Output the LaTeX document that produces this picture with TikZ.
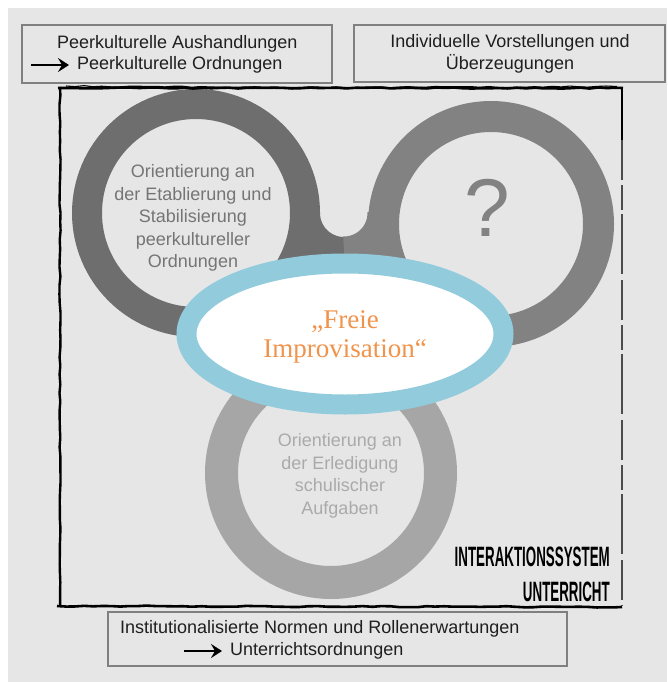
\documentclass[tikz,border=0pt]{standalone}
\usepackage{fontspec}
\setmainfont{Liberation Sans}
\newfontfamily\improfont{Liberation Serif}
\usetikzlibrary{arrows.meta,decorations.pathmorphing}
\definecolor{paper}{HTML}{E6E6E6}
\definecolor{ringdark}{HTML}{6E6E6E}
\definecolor{ringmid}{HTML}{828282}
\definecolor{ringlight}{HTML}{A6A6A6}
\definecolor{lensblue}{HTML}{92CBDC}
\definecolor{improorange}{HTML}{F0934B}
\definecolor{boxedge}{HTML}{808080}
\begin{document}
\begin{tikzpicture}[x=1pt,y=-1pt,
  boxframe/.style={draw=boxedge,line width=1.6pt},
  boxtext/.style={inner sep=0pt,font=\fontsize{18}{21}\selectfont,text=black!88},
  ringtext/.style={inner sep=0pt,align=center,font=\fontsize{18}{22.5}\selectfont},
  thickarrow/.style={line width=2.8pt,-{Stealth[length=11pt,width=14pt,inset=4pt]}},
  sketchy/.style={decorate,decoration={random steps,segment length=9pt,amplitude=0.6pt}},
  handtext/.style={inner sep=0pt,anchor=east,font=\bfseries\fontsize{28}{28}\selectfont}]
 \useasboundingbox (0,0) rectangle (667,682);
 \fill[white] (0,0) rectangle (667,682);
 \fill[paper] (8,8) rectangle (667,682);
 % boxes outside the frame
 \draw[boxframe] (22,25) rectangle (332,83);
 \node[boxtext,anchor=west] (aushandlung) at (57,44) {Peerkulturelle Aushandlungen};
 \node[boxtext,anchor=west] (peerordnung) at (77,65) {Peerkulturelle Ordnungen};
 \coordinate (pfeilA) at (31,65);
 \draw[thickarrow] (pfeilA) -- ([xshift=-8pt]peerordnung.west);
 \draw[boxframe] (354,25) rectangle (665,82);
 \node[boxtext,align=center] (vorstellung) at (510,54) {Individuelle Vorstellungen und\\[1pt]Überzeugungen};
 \draw[boxframe] (108,612) rectangle (567,666);
 \node[boxtext,anchor=west] (normen) at (120,629) {Institutionalisierte Normen und Rollenerwartungen};
 \node[boxtext,anchor=west] (unterrichtsordnung) at (230,651) {Unterrichtsordnungen};
 \coordinate (pfeilB) at (184,651);
 \draw[thickarrow] (pfeilB) -- ([xshift=-8pt]unterrichtsordnung.west);
 % rings
 \draw[ringdark,line width=30pt] (196,213) circle (109);
 \draw[ringdark,line width=30pt] (305,213) arc (180:90:39);
 \draw[ringmid,line width=31pt] (344,252) arc (90:0:39) -- (383.5,224);
 \draw[ringmid,line width=31pt] (491,224) circle (107.5);
 \draw[ringlight,line width=33pt] (331,473) circle (109.5);
 \node[ringtext,text=ringdark!95] (peerring) at (193,218) {Orientierung an\\der Etablierung und\\Stabilisierung\\peerkultureller\\Ordnungen};
 \node[inner sep=0pt,text=ringmid,font=\fontsize{82}{82}\selectfont] (fragering) at (487,208) {?};
 \node[ringtext,text=ringlight!95] (schulring) at (340,476) {Orientierung an\\der Erledigung\\schulischer\\Aufgaben};
 \draw[lensblue,line width=20pt,fill=white] (345,334) ellipse (158.5 and 70.5);
 \node[inner sep=0pt,align=center,text=improorange,font=\improfont\fontsize{27}{29}\selectfont] (improv) at (345,337) {„Freie\\Improvisation“};
 % hand drawn frame
 \pgfmathsetseed{11}
 \draw[sketchy,line width=2.6pt] (58,88) -- (623,88);
 \draw[sketchy,line width=1.1pt] (66,86) -- (300,87.5) -- (617,86.5);
 \draw[sketchy,line width=2.4pt] (60,87) -- (60,607);
 \draw[sketchy,line width=2.6pt] (57,606) -- (622,607);
 \draw[line width=2pt] (622,88) -- (622,140);
 \draw[line width=1.1pt,black!70,dash pattern=on 40pt off 5pt on 25pt off 4pt on 60pt off 6pt] (622,140) -- (622,606);
 \node[handtext] (interaktion) at (610,557) {\scalebox{0.477}[1]{INTERAKTIONSSYSTEM}};
 \node[handtext] (unterricht) at (610,592) {\scalebox{0.477}[1]{UNTERRICHT}};
\end{tikzpicture}
\end{document}
